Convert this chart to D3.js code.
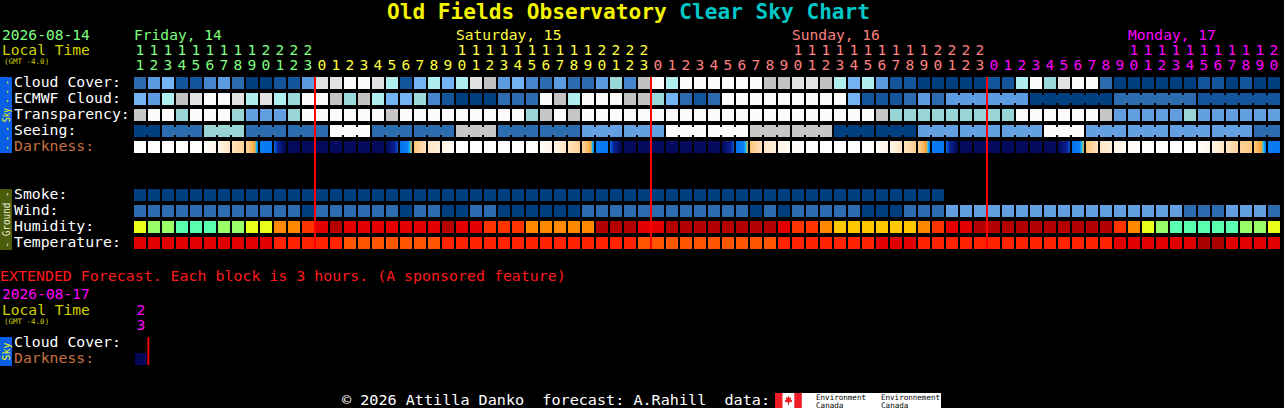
<!DOCTYPE html>
<html><head><meta charset="utf-8">
<script src="https://cdn.jsdelivr.net/npm/d3@7"></script>
<style>
html,body{margin:0;padding:0;background:#000;overflow:hidden}
svg{display:block}
text{font-family:"DejaVu Sans Mono","Liberation Mono",monospace}
</style>
</head><body><svg id="c" width="1284" height="408"></svg>
<script>
// ---------------- DATA ----------------
const titleMain = "Old Fields Observatory ";
const titleSub = "Clear Sky Chart";
const startDate = "2026-08-14";
const extDate = "2026-08-17";
const dayNames = ["Friday, 14", "Saturday, 15", "Sunday, 16", "Monday, 17"];
const dayFirstHour = [11, 0, 0, 0];
const dayLastHour = [23, 23, 23, 20];
const skyRows = ["Cloud Cover:", "ECMWF Cloud:", "Transparency:", "Seeing:", "Darkness:"];
const groundRows = ["Smoke:", "Wind:", "Humidity:", "Temperature:"];

// cloud cover in percent (0 = clear ... 100 = overcast)
const cloudCover = [20,40,50,10,10,30,40,20,0,0,10,10,40,90,90,100,100,90,70,10,50,70,
  50,70,90,80,40,50,30,20,40,20,20,40,60,30,80,
  100,70,100,100,100,100,100,100,80,80,90,90,80,70,
  50,70,40,10,10,0,0,0,0,0,10,10,70,100,60,90,100,100,20,
  0,0,0,0,0,0,10,10,0,10,0,0];
const ecmwfCloud = [50,40,70,80,90,100,100,90,70,90,70,60,100,100,80,60,80,70,50,50,60,30,
  10,0,0,0,20,20,20,100,80,70,100,100,100,80,80,
  60,50,20,10,20,100,100,100,100,100,100,100,100,100,
  50,10,10,10,20,40,20,
  40,40,40,40,40,40, 0,0,0,0,0,0, 20,20,20,20,20,20, 10,10,10,10,10,10];
// transparency: 0 too cloudy, 1 poor, 2 below avg, 3 average, 4 above avg, 5 transparent
const transparency = [1,0,0,2,0,0,0,2,3,3,3,2,0,0,0,0,0,0,1,0,0,0,
  0,0,0,0,0,0,2,1,0,1,0,0,0,0,0,
  0,0,0,0,0,0,0,0,0,0,0,0,0,0,
  0,0,1,2,2,2,2,2,2,2,2,2,0,0,0,0,0,0,1,
  3,3,3,3,3,2,3,3,3,3,3,3];
// seeing per 3-hour block: 0 too cloudy, 1 bad ... 5 excellent
const seeingBlocks = [5,4,2,4,4,0,4,4,1,4,4,3,3,0,0,1,1,5,5,3,3,3,0,3,3,3,3,4];
// darkness index at start / end of each hour (0 day ... 6 full dark)
const darknessStart = [0,0,0,0,0,0.2,1,2,2.7,3.7,4.4,6,6,6,6,6,6,6,6,4.0,3.1,2,
  1.1,0,0,0,0,0,0,0.2,1,2,2.7,3.7,4.4,6,6,
  6,6,6,6,6,6,4.0,3.1,2,1.1,0.5,0,0,0,
  0,0,0.2,1,2,2.8,3.7,4.4,6,6,6,6,6,6,6,6,4.0,3.1,2,
  1.1,0.5,0,0,0,0,0.2,1,2,2.6,3.0,3.7];
const darknessEnd = [0,0,0,0,0,1,2,2.7,3.65,3.8,6.2,6,6,6,6,6,6,6,4.6,3.4,2,1.3,
  0.2,0,0,0,0,0,0,1,2,2.7,3.65,3.8,6.2,6,6,
  6,6,6,6,6,4.6,3.4,2,1.3,0.5,0.1,0,0,0,
  0,0,1,2,2.8,3.65,3.8,6.2,6,6,6,6,6,6,6,4.6,3.4,2,1.3,
  0.5,0.1,0,0,0,0,1,2,2.6,3.0,3.65,3.8];
const smoke = [0,0,0,0,0,0,0,0,0,0,0,0,0,0,0,0,0,0,0,0,0,0,0,0,0,0,0,0,0,
  0,0,0,0,0,0,0,0,0,0,0,0,0,0,0,0,0,0,0,0,0,0,0,0,0,0,0,0,0];
// wind mph
const wind = [8,8,8,8,8,8,8,8,8,8,8,8,3,8,8,8,8,8,8,3,8,8,
  3,3,8,8,3,3,3,3,3,3,8,8,8,8,8,
  8,8,8,8,8,8,8,3,8,3,8,8,8,8,
  8,3,3,3,8,8,8,14,14,14,14,14,14,14,14,14,14,14,14,14,14,14,14,14,
  8,8,8,14,14,14,8];
// relative humidity %
const humidity = [53,48,48,43,43,43,48,48,53,53,65,65,75,85,95,85,85,85,85,85,85,85,
  95,85,85,75,75,75,65,65,65,65,65,95,95,95,85,
  85,95,95,95,95,95,95,95,95,85,75,75,65,58,
  58,58,58,58,58,65,75,85,85,95,95,95,95,95,95,95,95,95,95,
  75,65,53,48,43,43,43,43,43,48,48,53];
// temperature C
const temperature = [25,25,25,25,25,25,25,25,25,25,22,22,22,22,22,20,20,20,20,20,20,20,
  22,22,22,22,22,22,22,22,22,22,22,22,22,22,20,
  20,20,20,20,20,20,20,20,20,22,22,22,22,22,
  22,22,25,25,25,22,22,22,22,22,22,22,22,22,22,22,22,22,22,
  25,25,25,25,25,25,28,28,25,25,25,25];
const extHourLabels = ["23"];
const extCloudCover = [null];
const extDarkness = [6.4];
const extendedNote = "EXTENDED Forecast. Each block is 3 hours. (A sponsored feature)";
const footerText = "\u00a9 2026 Attilla Danko  forecast: A.Rahill  data:";

// ---------------- BUILD ----------------
const svg = d3.select("#c");
svg.append("rect").attr("width",1284).attr("height",408).attr("fill","#000");
const defs = svg.append("defs");

const cols = [];
dayNames.forEach((n, d) => { for (let h = dayFirstHour[d]; h <= dayLastHour[d]; h++) cols.push({day:d, hour:h}); });
const N = cols.length;

const x = d3.scaleBand().domain(d3.range(N)).range([134, 134 + N*14 - 2]).paddingInner(2/14);
const bw = x.bandwidth();
const ySky = d3.scaleBand().domain(skyRows).range([77,153]).paddingInner(0.25);
const yGr = d3.scaleBand().domain(groundRows).range([189,249]).paddingInner(0.25);
const ch = ySky.bandwidth();

const dayColors = ["#80ff80","#ffff40","#ff8080","#ff00ff"];

const cloudColor = d3.scaleThreshold().domain([5,15,25,35,45,55,65,75,85,95])
  .range(["#003f7f","#13559a","#2c6bae","#4585cb","#5b9be0","#73b3f3","#99d9d9","#aeeeee","#c2c2c2","#e2e2e2","#fbfbfb"]);
const levelColor = d3.scaleOrdinal().domain([0,1,2,3,4,5])
  .range(["#fbfbfb","#c6c6c6","#99d5d5","#63a0e1","#2c6bae","#003f7f"]);
const windColor = d3.scaleThreshold().domain([6,12]).range(["#003f7f","#2c6bae","#63a0e1"]);
const smokeColor = d3.scaleThreshold().domain([2]).range(["#003f7f","#2c6bae"]);
const humColor = d3.scaleThreshold().domain([45,50,55,60,70,80,90])
  .range(["#5affb0","#99ff66","#eaff1a","#ffc800","#ff8800","#ff3300","#e40000","#b40000"]);
const tempColor = d3.scaleThreshold().domain([21,23,27]).range(["#ff5500","#ff2200","#e00000","#aa0000"]);
const darkColor = d3.scaleLinear().domain([0,1,2,3,3.4,3.5,3.6,4.5,5,6,7])
  .range(["#ffffff","#fff5e8","#ffe4c0","#ffc880","#ffa030","#20c8f0","#0a80f5","#0060e0","#0a2090","#040a5c","#00064a"]).clamp(true);

// title
const title = svg.append("text").attr("x",387).attr("y",19).attr("font-size",21).attr("font-weight","bold")
  .attr("textLength",483).attr("lengthAdjust","spacingAndGlyphs").style("white-space","pre");
title.append("tspan").attr("fill","#f4f400").text(titleMain);
title.append("tspan").attr("fill","#00c8c8").text(titleSub);

// left header
svg.append("text").attr("x",2).attr("y",40).attr("font-size",14.6).attr("fill","#80ff80").text(startDate);
svg.append("text").attr("x",2).attr("y",55).attr("font-size",14.6).attr("fill","#d0d000").text("Local Time");
svg.append("text").attr("x",4).attr("y",64).attr("font-size",7.5).attr("fill","#d0d000").text("(GMT -4.0)");

// day labels
dayNames.forEach((n, d) => {
  const idx = cols.findIndex(c => c.day === d && c.hour === Math.max(dayFirstHour[d], 10));
  svg.append("text").attr("x", x(idx)).attr("y",40).attr("font-size",14.6).attr("fill",dayColors[d]).text(n);
});
// hour labels
const hl = svg.append("g").attr("font-size",14.6).attr("text-anchor","middle");
hl.selectAll("text.t").data(cols.map((c,i)=>({c,i})).filter(o=>o.c.hour>=10)).join("text")
  .attr("x",o=>x(o.i)+bw/2).attr("y",55).attr("fill",o=>dayColors[o.c.day]).text(o=>Math.floor(o.c.hour/10));
hl.selectAll("text.o").data(cols.map((c,i)=>({c,i}))).join("text")
  .attr("x",o=>x(o.i)+bw/2).attr("y",70).attr("fill",o=>dayColors[o.c.day]).text(o=>o.c.hour%10);

// side bars
function sideBar(y0, h, fill, label, tcol, tl) {
  svg.append("rect").attr("x",0).attr("y",y0).attr("width",12).attr("height",h).attr("fill",fill);
  svg.append("text").attr("transform",`translate(6.5,${y0+h/2}) rotate(-90)`).attr("text-anchor","middle")
    .attr("dominant-baseline","central").attr("font-size",10).attr("fill",tcol)
    .attr("textLength",tl).attr("lengthAdjust","spacingAndGlyphs").text(label);
}
sideBar(77, 76, "#0a5fe6", "- - - Sky - - -", "#ffff00", 70);
sideBar(189, 61, "#4d5c0a", "- Ground -", "#f0f0d8", 56);

// row labels
function rowLabel(txt, y, col) {
  svg.append("text").attr("x",14).attr("y",y).attr("font-size",14.6).attr("fill",col)
    .attr("textLength",txt.length*8.9).attr("lengthAdjust","spacingAndGlyphs").text(txt);
}
skyRows.forEach(r => rowLabel(r, ySky(r)+10, r === "Darkness:" ? "#c87040" : "#ffffff"));
groundRows.forEach(r => rowLabel(r, yGr(r)+10, "#ffffff"));

// generic cell row
function cellRow(vals, y, colorFn) {
  svg.append("g").selectAll("rect").data(vals.map((v,i)=>({v,i})).filter(o=>o.v!==null && o.v!==undefined)).join("rect")
    .attr("x",o=>x(o.i)).attr("y",y).attr("width",bw).attr("height",ch).attr("fill",o=>colorFn(o.v));
}
// connectors inside multi-hour blocks
function connectors(vals, blockId, y, colorFn) {
  const pairs = [];
  for (let i = 0; i < vals.length-1; i++) if (blockId[i] !== null && blockId[i] === blockId[i+1]) pairs.push(i);
  svg.append("g").selectAll("rect").data(pairs).join("rect")
    .attr("x",i=>x(i)+bw).attr("y",y+2).attr("width",x.step()-bw).attr("height",ch-4).attr("fill",i=>colorFn(vals[i]));
}

cellRow(cloudCover, ySky("Cloud Cover:"), cloudColor);

// ECMWF: 6-hourly beyond column 58
const ecmwfBlock = []; let eb = -1;
cols.forEach((c,i)=>{ if (i < 58) ecmwfBlock.push(null); else { if (i===58 || c.hour%6===3) eb++; ecmwfBlock.push(eb);} });
cellRow(ecmwfCloud, ySky("ECMWF Cloud:"), cloudColor);
connectors(ecmwfCloud, ecmwfBlock, ySky("ECMWF Cloud:"), cloudColor);

cellRow(transparency, ySky("Transparency:"), levelColor);

// seeing: 3-hour blocks starting at hours 1,4,7,...
const seeBlock = []; let sb = -1;
cols.forEach((c,i)=>{ if (i===0 || c.hour%3===1) sb++; seeBlock.push(sb); });
const seeing = seeBlock.map(b => seeingBlocks[b]);
cellRow(seeing, ySky("Seeing:"), levelColor);
connectors(seeing, seeBlock, ySky("Seeing:"), levelColor);

// darkness with in-hour gradients
const dkY = ySky("Darkness:");
cols.forEach((c,i)=>{
  const s = darknessStart[i], e = darknessEnd[i];
  let fill;
  if (s === e) fill = darkColor(s);
  else {
    const g = defs.append("linearGradient").attr("id","dk"+i).attr("x1",0).attr("x2",1).attr("y1",0).attr("y2",0);
    d3.range(0,1.0001,1/16).forEach(t => g.append("stop").attr("offset",t).attr("stop-color",darkColor(s+(e-s)*t)));
    fill = `url(#dk${i})`;
  }
  svg.append("rect").attr("x",x(i)).attr("y",dkY).attr("width",bw).attr("height",ch).attr("fill",fill);
});

cellRow(smoke, yGr("Smoke:"), smokeColor);
cellRow(wind, yGr("Wind:"), windColor);
cellRow(humidity, yGr("Humidity:"), humColor);
cellRow(temperature, yGr("Temperature:"), tempColor);

// midnight lines
svg.append("g").selectAll("rect").data(cols.map((c,i)=>({c,i})).filter(o=>o.c.hour===0 && o.i>0)).join("rect")
  .attr("x",o=>x(o.i)-2).attr("y",77).attr("width",2).attr("height",172).attr("fill","#ff0000");

// ---------------- EXTENDED ----------------
svg.append("text").attr("x",0).attr("y",281).attr("font-size",14.6).attr("fill","#ff1a1a")
  .attr("textLength",extendedNote.length*8.98).attr("lengthAdjust","spacingAndGlyphs").text(extendedNote);
svg.append("text").attr("x",2).attr("y",299).attr("font-size",14.6).attr("fill","#ff00ff").text(extDate);
svg.append("text").attr("x",2).attr("y",315).attr("font-size",14.6).attr("fill","#d0d000").text("Local Time");
svg.append("text").attr("x",4).attr("y",324).attr("font-size",7.5).attr("fill","#d0d000").text("(GMT -4.0)");
const xe = d3.scaleBand().domain(d3.range(extHourLabels.length)).range([134, 134 + extHourLabels.length*14 - 2]).paddingInner(2/14);
const ge = svg.append("g").attr("font-size",14.6).attr("text-anchor","middle").attr("fill","#ff00ff");
extHourLabels.forEach((h,i)=>{
  ge.append("text").attr("x",xe(i)+6).attr("y",315).text(h[0]);
  ge.append("text").attr("x",xe(i)+6).attr("y",330).text(h[1]);
});
sideBar(337, 29, "#0a5fe6", "Sky", "#ffff00", 18);
rowLabel("Cloud Cover:", 347, "#ffffff");
rowLabel("Darkness:", 363, "#c87040");
extCloudCover.forEach((v,i)=>{ if (v!==null) svg.append("rect").attr("x",xe(i)).attr("y",337).attr("width",12).attr("height",12).attr("fill",cloudColor(v)); });
extDarkness.forEach((v,i)=>svg.append("rect").attr("x",xe(i)).attr("y",353).attr("width",12).attr("height",12).attr("fill",darkColor(v)));
svg.append("rect").attr("x",xe(extHourLabels.length-1)+12.6).attr("y",337).attr("width",1.8).attr("height",28).attr("fill","#ff0000");

// ---------------- FOOTER ----------------
svg.append("text").attr("x",342).attr("y",405).attr("font-size",14.6).attr("fill","#ffffff").style("white-space","pre")
  .attr("textLength",428).attr("lengthAdjust","spacingAndGlyphs").text(footerText);
const logo = svg.append("g");
logo.append("rect").attr("x",775).attr("y",393).attr("width",166).attr("height",15).attr("fill","#ffffff");
logo.append("rect").attr("x",775).attr("y",393).attr("width",7.5).attr("height",15).attr("fill","#ee1c24");
logo.append("rect").attr("x",794.3).attr("y",393).attr("width",7.5).attr("height",15).attr("fill","#ee1c24");
logo.append("path").attr("fill","#ee1c24")
  .attr("d","M788.5,395.5 L789.6,398 L791.2,397.3 L790.6,400.5 L792.3,399.6 L791.8,402 L789,402.6 L789,405 L788,405 L788,402.6 L785.2,402 L784.7,399.6 L786.4,400.5 L785.8,397.3 L787.4,398 Z");
const lt = logo.append("g").attr("font-size",7.6).attr("fill","#000").attr("font-family","Liberation Sans, sans-serif");
lt.append("text").attr("x",816).attr("y",400).attr("textLength",50).attr("lengthAdjust","spacingAndGlyphs").text("Environment");
lt.append("text").attr("x",816).attr("y",407.5).text("Canada");
lt.append("text").attr("x",881).attr("y",400).attr("textLength",59).attr("lengthAdjust","spacingAndGlyphs").text("Environnement");
lt.append("text").attr("x",881).attr("y",407.5).text("Canada");
</script></body></html>
